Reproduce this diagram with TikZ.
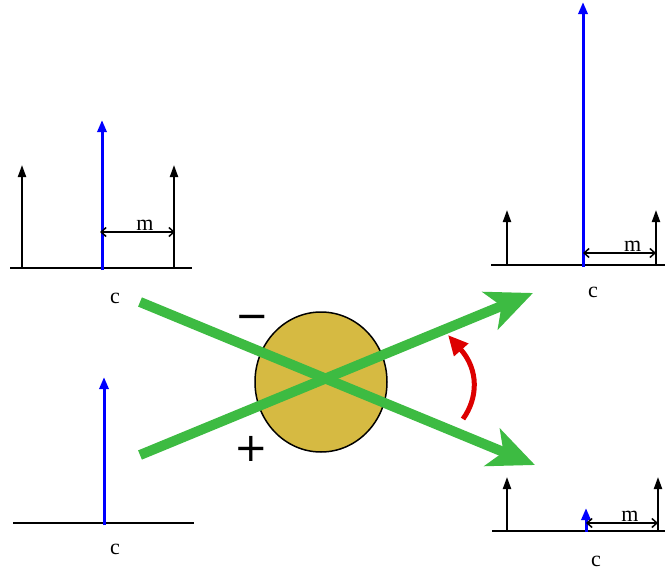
\documentclass[tikz,border=0pt]{standalone}
\usepackage{fontspec}
\setmainfont{Liberation Serif}
\newfontfamily\signfont{DejaVu Sans}
\usetikzlibrary{arrows.meta,positioning,shapes.geometric,calc}
\definecolor{beamgreen}{RGB}{61,187,66}
\definecolor{lensgold}{RGB}{214,186,66}
\definecolor{rotred}{RGB}{221,0,0}

\begin{document}
\begin{tikzpicture}[x=1pt, y=-1pt, font=\fontsize{22}{24}\selectfont, >={Stealth[round]},
  base/.style={line width=2pt},
  peak/.style={line width=2pt, -{Triangle[length=12pt, width=8pt]}},
  mainpeak/.style={peak, draw=blue, line width=3pt, -{Triangle[length=12pt, width=9pt, fill=blue]}},
  dim/.style={line width=1.5pt, {Straight Barb[length=5pt, width=9pt]}-{Straight Barb[length=5pt, width=9pt]}},
  beam/.style={line width=10pt, draw=beamgreen, -{Stealth[length=46pt, width=40pt, inset=12pt, fill=beamgreen]}},
  sign/.style={font=\signfont\fontsize{40}{40}\selectfont, inner sep=0pt}]
\useasboundingbox (0,0) rectangle (665,573);

% spectrum top left
\draw[base] (10,268) -- (192,268);
\foreach \x in {22,174} \draw[peak] (\x,268) -- (\x,165);
\draw[mainpeak] (102,270) -- (102,120);
\draw[dim] (100,232) -- node[above, pos=0.6, inner sep=1pt] (mTL) {m} (175,232);
\node (cTL) at (115,298) {c};

% spectrum top right
\draw[base] (491,265) -- (665,265);
\foreach \x in {507,656} \draw[peak] (\x,265) -- (\x,210);
\draw[mainpeak] (583,267) -- (583,2);
\draw[dim] (583,253) -- node[above, pos=0.68, inner sep=1pt] (mTR) {m} (656,253);
\node (cTR) at (593,292) {c};

% spectrum bottom left
\draw[base] (13,523) -- (194,523);
\draw[mainpeak] (104,525) -- (104,377);
\node (cBL) at (115,549) {c};

% spectrum bottom right
\draw[base] (492,531) -- (665,531);
\foreach \x in {507,658} \draw[peak] (\x,531) -- (\x,477);
\draw[mainpeak] (586,532) -- (586,508);
\draw[dim] (586,523) -- node[above, pos=0.61, inner sep=1pt] (mBR) {m} (658,523);
\node (cBR) at (596,561) {c};

% lens and beams
\node[ellipse, draw, line width=1.5pt, fill=lensgold, minimum width=132pt, minimum height=140pt] (lens) at (321,382) {};
\coordinate (inA) at (140,302);
\coordinate (outA) at (535,465);
\coordinate (inB) at (140,455);
\coordinate (outB) at (533,293);
\draw[beam] (inA) -- (outA);
\draw[beam] (inB) -- (outB);
\node[sign] (minus) at (252,322) {−};
\node[sign] (plus) at (251,449) {+};

% rotation
\coordinate (rotS) at (463,419);
\coordinate (rotE) at (448,335);
\draw[line width=5pt, draw=rotred, -{Triangle[length=20pt, width=18pt, fill=rotred]}]
  (rotS) .. controls (478,398) and (479,370) .. (rotE);
\end{tikzpicture}
\end{document}
